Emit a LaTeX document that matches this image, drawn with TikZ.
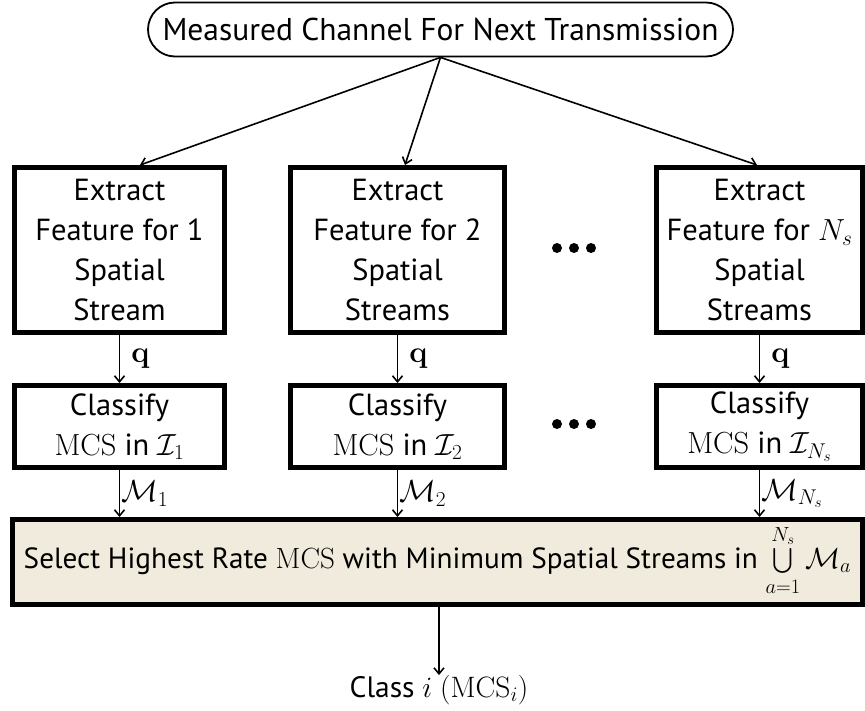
\RequirePackage{fix-cm}
\documentclass[tikz,border=0pt]{standalone}
\usepackage{exscale}
\usepackage{fontspec}
\setmainfont{PT Sans}
\newfontfamily\lmr{Latin Modern Roman}
\usetikzlibrary{arrows.meta,shapes.misc}
\definecolor{selfill}{RGB}{240,235,220}
\newcommand{\mcsname}{{\lmr MCS}}
\begin{document}
\begin{tikzpicture}[x=1pt,y=-1pt,
  txt/.style={font=\fontsize{30.5}{40}\selectfont},
  topnode/.style={draw,rounded rectangle,line width=1.8pt,minimum width=587pt,minimum height=54pt,inner sep=1pt,
                  font=\fontsize{31.5}{40}\selectfont},
  blk/.style={txt,draw,line width=5pt,align=center,inner sep=1pt},
  ebox/.style={blk,minimum height=165pt},
  cbox/.style={blk,minimum height=82pt},
  arr/.style={-{Straight Barb[length=6pt,width=10pt]},line width=1.6pt},
  lbl/.style={txt,inner sep=2pt}]
\useasboundingbox (0,0) rectangle (865,710);

% source of the channel measurement
\node[topnode] (meas) at (440.5,29.5) {Measured Channel For Next Transmission};

% feature extraction, one block per number of spatial streams
\node[ebox,minimum width=210pt] (e1) at (119.5,250) {Extract\\Feature for 1\\Spatial\\Stream};
\node[ebox,minimum width=214pt] (e2) at (397.5,250) {Extract\\Feature for 2\\Spatial\\Streams};
\node[ebox,minimum width=206pt] (e3) at (759.5,250) {Extract\\Feature for $N_s$\\Spatial\\Streams};

% per-stream classifiers
\node[cbox,minimum width=210pt] (c1) at (119.5,426.5) {Classify\\\mcsname{} in $\mathcal{I}_1$};
\node[cbox,minimum width=214pt] (c2) at (397.5,426.5) {Classify\\\mcsname{} in $\mathcal{I}_2$};
\node[cbox,minimum width=206pt] (c3) at (759.5,426.5) {Classify\\\mcsname{} in $\mathcal{I}_{N_s}$};

% final selection
\node[blk,fill=selfill,minimum width=850pt,minimum height=85pt,inner sep=0pt,
      font=\fontsize{29.2}{40}\selectfont] (sel) at (437.5,562)
  {Select Highest Rate \mcsname{} with Minimum Spatial Streams in $\bigcup\limits_{\mathstrut a=1}^{\mathstrut N_s}\mathcal{M}_a$};

\node[lbl,font=\fontsize{29.5}{40}\selectfont] (cls) at (439,690) {Class $i$ {\lmr (MCS}$_i${\lmr )}};

% ellipses between the second and last columns
\foreach \yy in {248,424}
  \foreach \xx in {557,574,591}
    \fill (\xx,\yy) circle (5pt);

% connectors
\draw[arr] (meas.south) -- ([xshift=20.5pt]e1.north);
\draw[arr] (meas.south) -- ([xshift=7.5pt]e2.north);
\draw[arr] (meas.south) -- ([xshift=-2.5pt]e3.north);

\draw[arr] (e1) -- node[lbl,right,xshift=9pt]{{\lmr\bfseries q}} (c1);
\draw[arr] (e2) -- node[lbl,right,xshift=9pt]{{\lmr\bfseries q}} (c2);
\draw[arr] (e3) -- node[lbl,right,xshift=9pt]{{\lmr\bfseries q}} (c3);

\draw[arr] (c1.south) -- (c1.south |- sel.north) node[lbl,midway,right,inner sep=1pt]{$\mathcal{M}_1$};
\draw[arr] (c2.south) -- (c2.south |- sel.north) node[lbl,midway,right,inner sep=1pt]{$\mathcal{M}_2$};
\draw[arr] (c3.south) -- (c3.south |- sel.north) node[lbl,midway,right,inner sep=1pt]{$\mathcal{M}_{N_s}$};

\draw[arr] (sel.south -| cls.north) -- ([yshift=-2pt]cls.north);
\end{tikzpicture}
\end{document}
